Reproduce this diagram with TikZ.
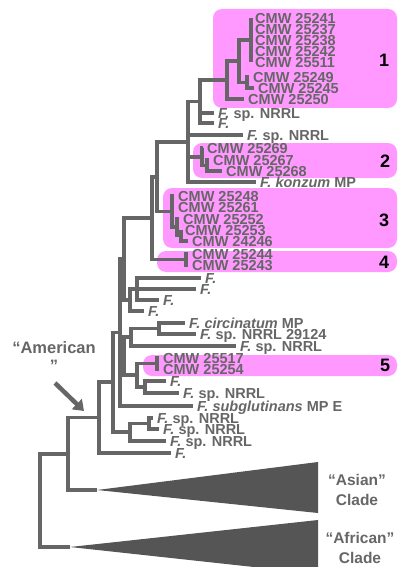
\documentclass[tikz,border=0pt]{standalone}
\usepackage{fontspec}
\setmainfont{Liberation Sans}
\usetikzlibrary{arrows.meta}
\definecolor{branchgray}{RGB}{102,102,102}
\definecolor{cladepink}{RGB}{255,153,255}
\definecolor{wedgegray}{RGB}{85,85,85}
\newcommand{\fus}{\textit{F.}}
\tikzset{
  branch/.style={draw=branchgray, line width=3.2pt},
  leaf/.style={anchor=west, inner xsep=4pt, inner ysep=0pt, text height=10.4pt, text depth=0pt,
    text=branchgray, font=\fontsize{14.5}{14.5}\selectfont\bfseries},
  cladebox/.style={fill=cladepink, rounded corners=9pt},
  cladenum/.style={font=\fontsize{18}{18}\selectfont\bfseries},
  cladename/.style={align=center, text=branchgray, font=\fontsize{15.5}{20}\selectfont\bfseries}
}
\begin{document}
\begin{tikzpicture}[x=1pt,y=-1pt]
  \useasboundingbox (0,0) rectangle (398,567);
  % clade boxes
  \fill[cladebox] (213,9) rectangle (397,108);
  \fill[cladebox] (193,143) rectangle (397,178);
  \fill[cladebox] (163,188) rectangle (397,248);
  \fill[cladebox] (157,251) rectangle (397,272);
  \fill[cladebox] (143,355) rectangle (397,376);
  \node[cladenum] (k1) at (384,60) {1};
  \node[cladenum] (k2) at (385,161) {2};
  \node[cladenum] (k3) at (384,220) {3};
  \node[cladenum] (k4) at (384,262) {4};
  \node[cladenum] (k5) at (385,365) {5};
  % leaves
  \node[leaf] (c41) at (251,18) {CMW 25241};
  \node[leaf] (c37) at (251,29) {CMW 25237};
  \node[leaf] (c38) at (251,40) {CMW 25238};
  \node[leaf] (c42) at (251,51) {CMW 25242};
  \node[leaf] (c11) at (251,62) {CMW 25511};
  \node[leaf] (c49) at (249,77) {CMW 25249};
  \node[leaf] (c45) at (254,88) {CMW 25245};
  \node[leaf] (c50) at (244,99) {CMW 25250};
  \node[leaf] (f1) at (214,113) {\fus{} sp. NRRL};
  \node[leaf] (f2) at (214,123) {\fus};
  \node[leaf] (f3) at (243,135) {\fus{} sp. NRRL};
  \node[leaf] (c69) at (203,148) {CMW 25269};
  \node[leaf] (c67) at (209,160) {CMW 25267};
  \node[leaf] (c68) at (222,171) {CMW 25268};
  \node[leaf] (konz) at (256,182) {\textit{F. konzum} MP};
  \node[leaf] (c48) at (174,196) {CMW 25248};
  \node[leaf] (c61) at (174,207) {CMW 25261};
  \node[leaf] (c52) at (179,219) {CMW 25252};
  \node[leaf] (c53) at (181,230) {CMW 25253};
  \node[leaf] (c246) at (188,241) {CMW 24246};
  \node[leaf] (c44) at (188,254) {CMW 25244};
  \node[leaf] (c43) at (188,265) {CMW 25243};
  \node[leaf] (f4) at (201,278) {\fus};
  \node[leaf] (f5) at (196,289) {\fus};
  \node[leaf] (f6) at (159,300) {\fus};
  \node[leaf] (f7) at (144,311) {\fus};
  \node[leaf] (circ) at (185,323) {\textit{F. circinatum} MP};
  \node[leaf] (n29) at (196,334) {\fus{} sp. NRRL 29124};
  \node[leaf] (f8) at (236,346) {\fus{} sp. NRRL};
  \node[leaf] (c17) at (159,358) {CMW 25517};
  \node[leaf] (c54) at (159,369) {CMW 25254};
  \node[leaf] (f9) at (166,381) {\fus};
  \node[leaf] (f10) at (179,393) {\fus{} sp. NRRL};
  \node[leaf] (subg) at (193,406) {\textit{F. subglutinans} MP E};
  \node[leaf] (f11) at (153,418) {\fus{} sp. NRRL};
  \node[leaf] (f12) at (159,429) {\fus{} sp. NRRL};
  \node[leaf] (f13) at (166,441) {\fus{} sp. NRRL};
  \node[leaf] (f14) at (171,453) {\fus};
  % inner nodes
  \coordinate (p1) at (251,40);
  \coordinate (b) at (247,82.5);
  \coordinate (a) at (239,61);
  \coordinate (c) at (227,80);
  \coordinate (d) at (200,101.5);
  \coordinate (h) at (207,165.5);
  \coordinate (g) at (202,157);
  \coordinate (e) at (188,142);
  \coordinate (kk) at (181,235.5);
  \coordinate (j) at (177,227);
  \coordinate (i) at (172,211.5);
  \coordinate (l) at (157,177);
  \coordinate (n4) at (186,259.5);
  \coordinate (m) at (152,218);
  \coordinate (q) at (137,289);
  \coordinate (r) at (130,300);
  \coordinate (o) at (124,259);
  \coordinate (cn) at (159,328.5);
  \coordinate (s) at (131,337);
  \coordinate (n5) at (157,363.5);
  \coordinate (v) at (145,387);
  \coordinate (u) at (137,375);
  \coordinate (t) at (124,356);
  \coordinate (pp) at (120,332.5);
  \coordinate (sm) at (149,423.5);
  \coordinate (ny) at (130,432);
  \coordinate (nx) at (113,382);
  \coordinate (z) at (99,417.5);
  \coordinate (aa) at (68,454);
  \coordinate (root) at (40,500.5);
  \coordinate (asia) at (97,490);
  \coordinate (afr) at (70,547);
  % branches
  \draw[branch] (p1) |- (c41) (p1) |- (c37) (p1) |- (c38) (p1) |- (c42) (p1) |- (c11);
  \draw[branch] (b) |- (c49) (b) |- (c45) (a) |- (p1) (a) |- (b) (c) |- (a) (c) |- (c50);
  \draw[branch] (d) |- (c) (d) |- (f1) (d) |- (f2);
  \draw[branch] (h) |- (c67) (h) |- (c68) (g) |- (c69) (g) |- (h);
  \draw[branch] (e) |- (d) (e) |- (f3) (e) |- (g) (e) |- (konz);
  \draw[branch] (kk) |- (c53) (kk) |- (c246) (j) |- (c52) (j) |- (kk);
  \draw[branch] (i) |- (c48) (i) |- (c61) (i) |- (j);
  \draw[branch] (l) |- (e) (l) |- (i) (n4) |- (c44) (n4) |- (c43) (m) |- (l) (m) |- (n4);
  \draw[branch] (q) |- (f4) (q) |- (f5) (q) |- (f6) (r) |- (q) (r) |- (f7) (o) |- (m) (o) |- (r);
  \draw[branch] (cn) |- (circ) (cn) |- (n29) (s) |- (cn) (s) |- (f8);
  \draw[branch] (n5) |- (c17) (n5) |- (c54) (v) |- (f9) (v) |- (f10) (u) |- (n5) (u) |- (v);
  \draw[branch] (t) |- (s) (t) |- (u) (pp) |- (o) (pp) |- (t) (pp) |- (subg);
  \draw[branch] (sm) |- (f11) (sm) |- (f12) (ny) |- (sm) (ny) |- (f13);
  \draw[branch] (nx) |- (pp) (nx) |- (ny) (z) |- (nx) (z) |- (f14);
  \draw[branch] (aa) |- (z) (aa) |- (asia) (root) |- (aa) (root) |- (afr);
  % collapsed clades
  \fill[wedgegray] (asia) -- (318,462) -- (318,513) -- cycle;
  \fill[wedgegray] (afr) -- (318,520) -- (318,574) -- cycle;
  \node[cladename] (asian) at (357,490) {“Asian”\\Clade};
  \node[cladename] (african) at (360,548) {“African”\\Clade};
  % American clade
  \node[cladename, font=\fontsize{16.5}{18}\selectfont\bfseries] (amer) at (54,357) {“American\\”};
  \coordinate (arrtail) at (55,383);
  \coordinate (arrhead) at (84,411);
  \draw[branchgray, line width=4.5pt, -{Triangle[length=10pt,width=14pt]}] (arrtail) -- (arrhead);
\end{tikzpicture}
\end{document}
